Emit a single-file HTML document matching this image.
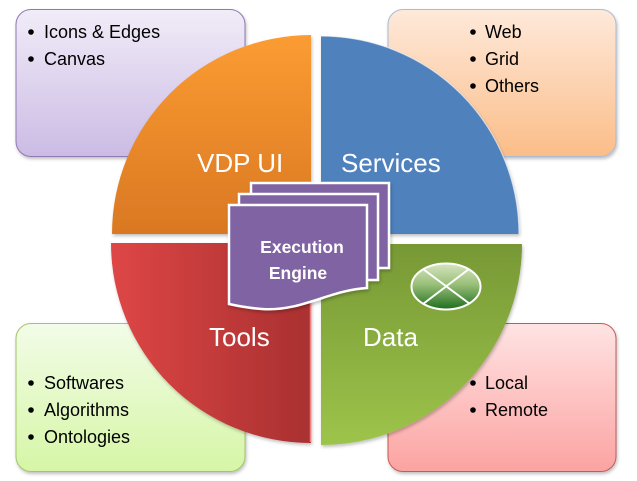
<!DOCTYPE html>
<html><head><meta charset="utf-8">
<style>
html,body{margin:0;padding:0;background:#fff;width:637px;height:481px;overflow:hidden}
svg{display:block}
text{font-family:"Liberation Sans",sans-serif}
</style></head>
<body>
<svg width="637" height="481" viewBox="0 0 637 481" xmlns="http://www.w3.org/2000/svg">
<defs>
<linearGradient id="gPur" x1="0" y1="0" x2="0" y2="1"><stop offset="0" stop-color="#f1ecf8"/><stop offset="1" stop-color="#cbbbe4"/></linearGradient>
<linearGradient id="gPea" x1="0" y1="0" x2="0" y2="1"><stop offset="0" stop-color="#fee9da"/><stop offset="1" stop-color="#fbbd88"/></linearGradient>
<linearGradient id="gGrn" x1="0" y1="0" x2="0" y2="1"><stop offset="0" stop-color="#f2fce8"/><stop offset="1" stop-color="#d6f6a6"/></linearGradient>
<linearGradient id="gPnk" x1="0" y1="0" x2="0" y2="1"><stop offset="0" stop-color="#ffe3e3"/><stop offset="1" stop-color="#fba3a1"/></linearGradient>
<linearGradient id="gOr" x1="0" y1="0" x2="0" y2="1"><stop offset="0" stop-color="#fb9c32"/><stop offset="1" stop-color="#d97823"/></linearGradient>
<linearGradient id="gRd" x1="0" y1="0" x2="1" y2="0"><stop offset="0" stop-color="#de4646"/><stop offset="1" stop-color="#a93030"/></linearGradient>
<linearGradient id="gGr" x1="0" y1="0" x2="0" y2="1"><stop offset="0" stop-color="#779835"/><stop offset="1" stop-color="#9dc44a"/></linearGradient>
<linearGradient id="gEl" x1="0" y1="0" x2="0" y2="1"><stop offset="0" stop-color="#d6e5c0"/><stop offset="0.45" stop-color="#9bc07a"/><stop offset="1" stop-color="#1d6d1d"/></linearGradient>
<filter id="sh" x="-10%" y="-10%" width="120%" height="120%"><feDropShadow dx="1" dy="2" stdDeviation="1.5" flood-color="#000" flood-opacity="0.25"/></filter>
</defs>

<!-- boxes -->
<rect x="16" y="9.5" width="229" height="147" rx="15" fill="url(#gPur)" stroke="#9079b3" stroke-width="1" filter="url(#sh)"/>
<rect x="388" y="9.5" width="228" height="147" rx="15" fill="url(#gPea)" stroke="#aabbd6" stroke-width="1" filter="url(#sh)"/>
<rect x="16" y="323.5" width="229" height="148" rx="15" fill="url(#gGrn)" stroke="#a3c46a" stroke-width="1" filter="url(#sh)"/>
<rect x="388" y="323.5" width="228" height="148" rx="15" fill="url(#gPnk)" stroke="#c25c5a" stroke-width="1" filter="url(#sh)"/>

<!-- bullets -->
<g fill="#000">
<circle cx="31" cy="32" r="2.8"/><circle cx="31" cy="59" r="2.8"/>
<circle cx="473" cy="32" r="2.8"/><circle cx="473" cy="59" r="2.8"/><circle cx="473" cy="86" r="2.8"/>
<circle cx="31" cy="383" r="2.8"/><circle cx="31" cy="410" r="2.8"/><circle cx="31" cy="437" r="2.8"/>
<circle cx="473" cy="383" r="2.8"/><circle cx="473" cy="410" r="2.8"/>
</g>

<!-- box text -->
<g font-size="18" fill="#000">
<text x="44" y="38">Icons &amp; Edges</text>
<text x="44" y="65">Canvas</text>
<text x="485" y="38">Web</text>
<text x="485" y="65">Grid</text>
<text x="485" y="92">Others</text>
<text x="44" y="389">Softwares</text>
<text x="44" y="416">Algorithms</text>
<text x="44" y="443">Ontologies</text>
<text x="485" y="389">Local</text>
<text x="485" y="416">Remote</text>
</g>

<!-- pie -->
<path d="M311,234 L112,234 A199,199 0 0 1 311,35 Z" fill="url(#gOr)" filter="url(#sh)"/>
<path d="M321,234 L321,36 A198,198 0 0 1 519,234 Z" fill="#4f81bd" filter="url(#sh)"/>
<path d="M321,36 A198,198 0 0 1 519,234" fill="none" stroke="#ffffff" stroke-opacity="0.6" stroke-width="1.2"/>
<path d="M311,243 L311,443 A200,200 0 0 1 111,243 Z" fill="url(#gRd)" filter="url(#sh)"/>
<line x1="310.5" y1="245" x2="310.5" y2="442" stroke="#f08080" stroke-width="1.5"/>
<path d="M321,244 L522,244 A201,201 0 0 1 321,445 Z" fill="url(#gGr)" filter="url(#sh)"/>

<!-- labels -->
<g font-size="26" fill="#fff">
<text x="197" y="172">VDP UI</text>
<text x="341" y="172">Services</text>
<text x="209" y="346">Tools</text>
<text x="363" y="346">Data</text>
</g>

<!-- ellipse icon -->
<ellipse cx="446" cy="286.5" rx="34.5" ry="23" fill="url(#gEl)" stroke="#fff" stroke-width="2"/>
<line x1="423" y1="269" x2="470" y2="304" stroke="#fff" stroke-width="2"/>
<line x1="469" y1="269" x2="423" y2="304" stroke="#fff" stroke-width="2"/>

<!-- document stack -->
<g stroke="#fff" stroke-width="2.5" fill="#8064a2" filter="url(#sh)">
<path d="M251,183 L389,183 L389,268 L251,268 Z"/>
<path d="M239,194 L378,194 L378,280 L239,280 Z"/>
<path d="M229,205 L367,205 L367,288 C330,290 300,312 262,309 C248,308 238,306 229,304 Z"/>
</g>
<g font-size="17.5" font-weight="bold" fill="#fff" text-anchor="middle">
<text x="302" y="253">Execution</text>
<text x="298" y="279">Engine</text>
</g>
</svg>
</body></html>
